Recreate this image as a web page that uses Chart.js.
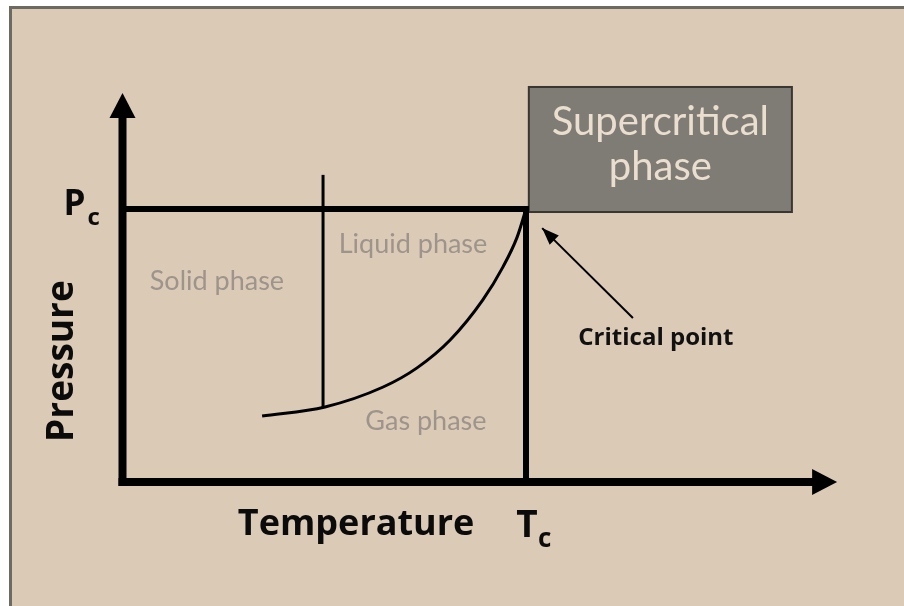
<!DOCTYPE html>
<html lang="en">
<head>
    <meta charset="UTF-8">
    <title>Phase diagram</title>
    <script src="https://cdn.jsdelivr.net/npm/chart.js"></script>
    <style>
        html, body { margin: 0; padding: 0; background: #fff; }
    </style>
</head>
<body>
    <canvas id="diagrama" width="904" height="606"></canvas>

    <script>
        // reduced units: x = T / Tc, y = P / Pc
        const curveT = [0.346, 0.502, 0.646, 0.730, 0.812, 0.893, 0.943, 0.978, 1.0];
        const curveP = [0.242, 0.275, 0.348, 0.418, 0.520, 0.667, 0.788, 0.897, 1.0];
        const meltT = [0.497, 0.497];
        const meltP = [0.275, 1.125];
        const pcLineT = [0, 1];
        const pcLineP = [1, 1];
        const tcLineT = [1, 1];
        const tcLineP = [0, 1];
        const xAxisT = [0, 1.726];
        const xAxisTip = [1.771, 0];
        const yAxisP = [0, 1.359];
        const yAxisTip = [0, 1.425];
        const critArrowT = [1.265, 1.040];
        const critArrowP = [0.601, 0.930];
        const superBoxT = [1.007, 1.659];
        const superBoxP = [0.989, 1.447];

        const phaseLabels = ["Solid phase", "Liquid phase", "Gas phase"];
        const phaseT = [0.234, 0.720, 0.752];
        const phaseP = [0.703, 0.839, 0.1905];
        const superLabels = ["Supercritical", "phase"];

        const pts = (xs, ys) => xs.map((x, i) => ({ x: x, y: ys[i] }));

        // desenha uma ponta de seta na posição (tip) vinda de (from)
        function ponta(ctx, fx, fy, tx, ty, len, w) {
            const a = Math.atan2(ty - fy, tx - fx);
            ctx.save();
            ctx.translate(tx, ty);
            ctx.rotate(a);
            ctx.beginPath();
            ctx.moveTo(0, 0);
            ctx.lineTo(-len, -w / 2);
            ctx.lineTo(-len, w / 2);
            ctx.closePath();
            ctx.fillStyle = "#000";
            ctx.fill();
            ctx.restore();
        }

        function texto(ctx, s, x, y, font, color, align) {
            ctx.font = font;
            ctx.fillStyle = color;
            ctx.textAlign = align || "center";
            ctx.textBaseline = "alphabetic";
            ctx.fillText(s, x, y);
        }

        const fundo = {
            id: "fundo",
            beforeDraw(chart) {
                const ctx = chart.ctx;
                ctx.save();
                ctx.fillStyle = "#fff";
                ctx.fillRect(0, 0, chart.width, chart.height);
                ctx.fillStyle = "#dbcab6";
                ctx.fillRect(10, 7, chart.width - 10, chart.height - 7);
                ctx.fillStyle = "#6d6963";
                ctx.fillRect(9, 6, chart.width - 9, 3);
                ctx.fillRect(9, 6, 3, chart.height - 6);
                ctx.restore();
            },
            beforeDatasetsDraw(chart) {
                const ctx = chart.ctx, sx = chart.scales.x, sy = chart.scales.y;
                const x0 = sx.getPixelForValue(superBoxT[0]), x1 = sx.getPixelForValue(superBoxT[1]);
                const y0 = sy.getPixelForValue(superBoxP[1]), y1 = sy.getPixelForValue(superBoxP[0]);
                ctx.save();
                ctx.fillStyle = "#7f7b75";
                ctx.fillRect(x0, y0, x1 - x0, y1 - y0);
                ctx.strokeStyle = "#3a3631";
                ctx.lineWidth = 2;
                ctx.strokeRect(x0, y0, x1 - x0, y1 - y0);
                const cx = (x0 + x1) / 2;
                texto(ctx, superLabels[0], cx, y0 + 48, "40px Lato", "#eadfcf");
                texto(ctx, superLabels[1], cx, y0 + 93, "40px Lato", "#eadfcf");
                ctx.restore();
            },
            afterDatasetsDraw(chart) {
                const ctx = chart.ctx, sx = chart.scales.x, sy = chart.scales.y;
                const px = v => sx.getPixelForValue(v), py = v => sy.getPixelForValue(v);
                ctx.save();
                // pontas das setas
                ponta(ctx, px(xAxisT[0]), py(0), px(xAxisTip[0]), py(xAxisTip[1]), 25, 26);
                ponta(ctx, px(0), py(yAxisP[0]), px(yAxisTip[0]), py(yAxisTip[1]), 25, 26);
                ponta(ctx, px(critArrowT[0]), py(critArrowP[0]), px(critArrowT[1]), py(critArrowP[1]), 17, 13);

                // rótulos das fases
                phaseLabels.forEach((s, i) => {
                    texto(ctx, s, px(phaseT[i]), py(phaseP[i]), "27px Lato", "#9d948b");
                });
                texto(ctx, "Critical point", px(critArrowT[0]) + 23, py(critArrowP[0]) + 27, "bold 24px 'Open Sans'", "#111");

                // eixos
                texto(ctx, "Temperature", px(0.579), py(0) + 53, "bold 36px 'Open Sans'", "#0b0b0b");
                texto(ctx, "T", px(1) + 1, py(0) + 55, "bold 37px 'Open Sans'", "#0b0b0b");
                texto(ctx, "c", px(1) + 12, py(0) + 65, "bold 26px 'Open Sans'", "#0b0b0b", "left");
                texto(ctx, "P", px(0) - 37, py(1) + 6, "bold 35px 'Open Sans'", "#0b0b0b", "right");
                texto(ctx, "c", px(0) - 35, py(1) + 16, "bold 24px 'Open Sans'", "#0b0b0b", "left");

                ctx.translate(px(0) - 50, py(0.443));
                ctx.rotate(-Math.PI / 2);
                texto(ctx, "Pressure", 0, 0, "bold 37px 'Open Sans'", "#0b0b0b");
                ctx.restore();
            }
        };

        const linha = (data, width, extra) => Object.assign({
            data: data,
            showLine: true,
            borderColor: "#000",
            borderWidth: width,
            pointRadius: 0,
            fill: false
        }, extra || {});

        new Chart(document.getElementById("diagrama"), {
            type: "scatter",
            data: {
                datasets: [
                    linha(pts(curveT, curveP), 3, { cubicInterpolationMode: "monotone" }),
                    linha(pts(meltT, meltP), 3),
                    linha(pts(pcLineT, pcLineP), 6, { borderCapStyle: "square" }),
                    linha(pts(tcLineT, tcLineP), 6, { borderCapStyle: "square" }),
                    linha(pts(xAxisT, [0, 0]), 8, { borderCapStyle: "square" }),
                    linha(pts([0, 0], yAxisP), 8, { borderCapStyle: "square" }),
                    linha(pts(critArrowT, critArrowP), 2)
                ]
            },
            options: {
                responsive: false,
                animation: false,
                layout: { padding: 0 },
                plugins: { legend: { display: false }, tooltip: { enabled: false } },
                scales: {
                    x: { type: "linear", display: false, min: -0.3036, max: 1.9368 },
                    y: { type: "linear", display: false, min: -0.4542, max: 1.7656 }
                }
            },
            plugins: [fundo]
        });
    </script>
</body>
</html>
